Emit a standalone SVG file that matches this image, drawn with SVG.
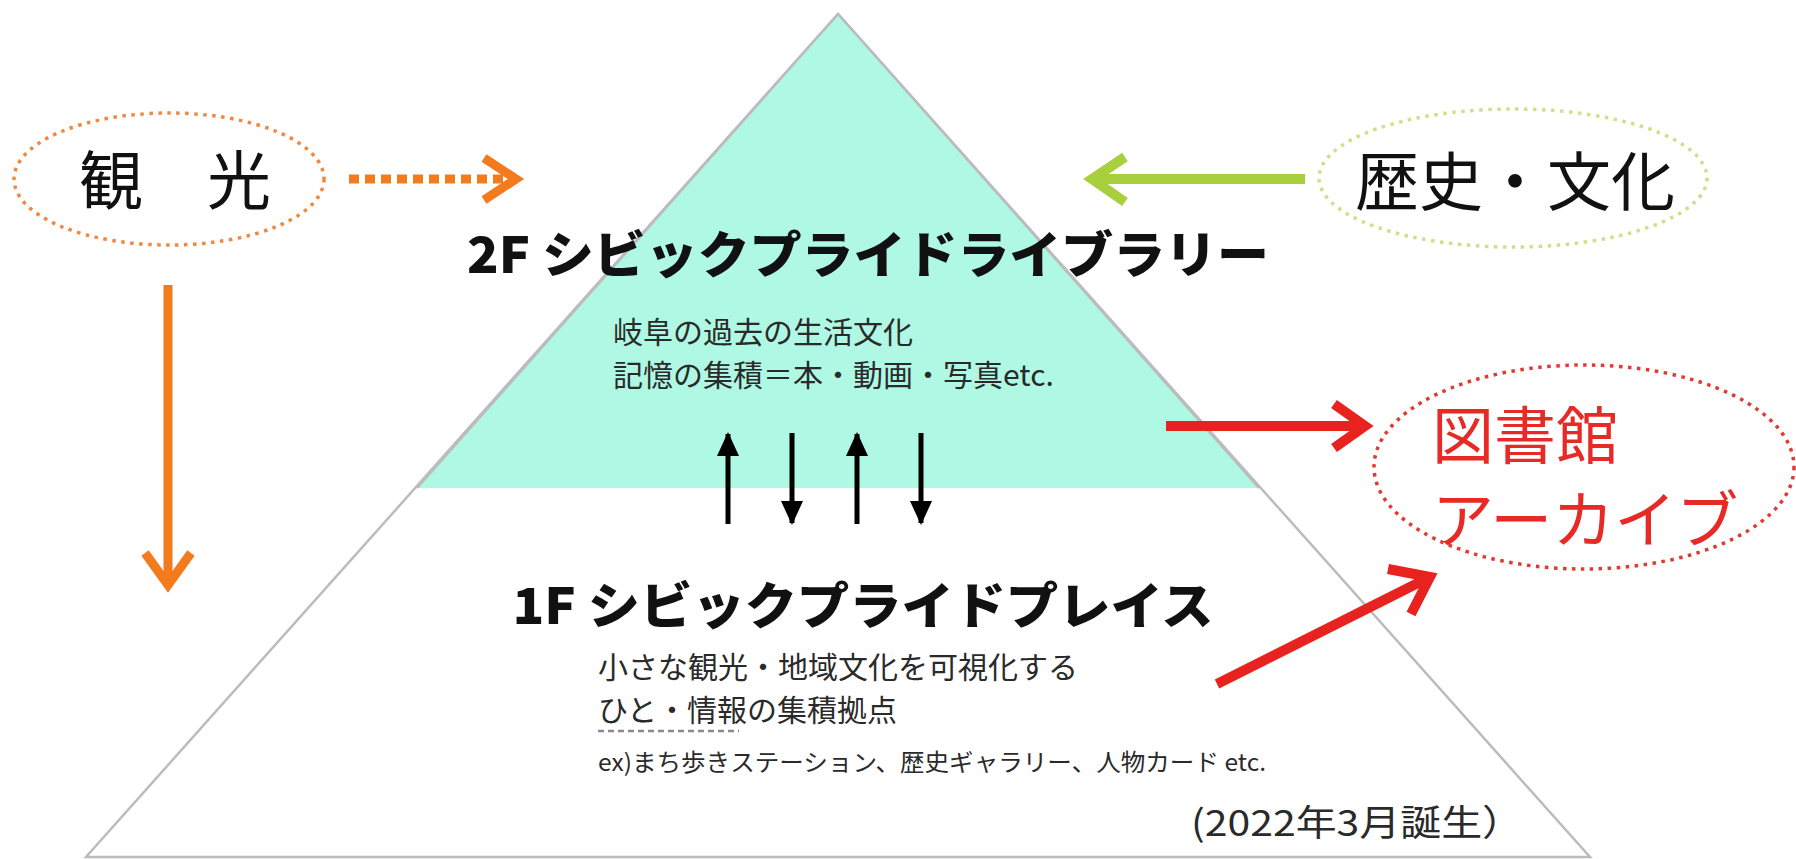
<svg xmlns="http://www.w3.org/2000/svg" width="1796" height="859" viewBox="0 0 1796 859">
<style>
text{font-family:"Noto Sans CJK JP","Noto Sans",sans-serif;}
.big{font-size:64px;fill:#111;}
.title{font-size:50px;font-weight:900;fill:#111;}
.body{font-size:30px;fill:#2a2a2a;}
.arw{fill:none;stroke-linecap:butt;stroke-linejoin:miter;}
.orange{stroke:#f47a1e;}
.green{stroke:#a8cf3e;}
.red{stroke:#e8231f;}
</style>
<defs>
<marker id="blk" viewBox="0 0 24 24" refX="22" refY="12" markerWidth="24" markerHeight="24" orient="auto" markerUnits="userSpaceOnUse">
<path d="M0,1 L24,12 L0,23 Z" fill="#000"/>
</marker>
</defs>
<rect width="1796" height="859" fill="#fff"/>

<g id="pyramid">
<polygon points="838,14 86,857 1590,857" fill="#fff" stroke="#bcbcbc" stroke-width="2.5"/>
<polygon points="838,15 417,488 1259,488" fill="#aef8e4"/>
<line x1="838" y1="14" x2="417" y2="488" stroke="#bcbcbc" stroke-width="2.5"/>
<line x1="838" y1="14" x2="1259" y2="488" stroke="#bcbcbc" stroke-width="2.5"/>
</g>

<g id="node-kanko">
<ellipse cx="169" cy="179" rx="155" ry="66" fill="none" stroke="#f08840" stroke-width="3.5" stroke-dasharray="3.5 5.5"/>
<text class="big" x="175" y="204" text-anchor="middle">観　光</text>
</g>

<g id="node-rekishi">
<ellipse cx="1513" cy="178" rx="194" ry="69" fill="none" stroke="#cfe08a" stroke-width="3.5" stroke-dasharray="3.5 5.5"/>
<text class="big" x="1515" y="205" text-anchor="middle">歴史・文化</text>
</g>

<g id="node-archive">
<ellipse cx="1584" cy="467" rx="210" ry="102" fill="none" stroke="#e03a34" stroke-width="3.5" stroke-dasharray="3.5 5.5"/>
<text class="big" x="1432" y="459" style="fill:#e82a26;font-size:62px">図書館</text>
<text class="big" x="1432" y="543" style="fill:#e82a26;font-size:62px">アーカイブ</text>
</g>

<g id="node-2f">
<text class="title" x="868" y="273" text-anchor="middle" textLength="802" lengthAdjust="spacingAndGlyphs">2F シビックプライドライブラリー</text>
<text class="body" x="613" y="343">岐阜の過去の生活文化</text>
<text class="body" x="613" y="386">記憶の集積＝本・動画・写真etc.</text>
</g>

<g id="node-1f">
<text class="title" x="863" y="624" text-anchor="middle" textLength="701" lengthAdjust="spacingAndGlyphs">1F シビックプライドプレイス</text>
<text class="body" x="598" y="678">小さな観光・地域文化を可視化する</text>
<text class="body" x="598" y="721">ひと・情報の集積拠点</text>
<line x1="598" y1="731" x2="739" y2="731" stroke="#8a8a8a" stroke-width="2.5" stroke-dasharray="6 4"/>
<text class="body" x="598" y="771" style="font-size:24px" textLength="668" lengthAdjust="spacingAndGlyphs">ex)まち歩きステーション、歴史ギャラリー、人物カード etc.</text>
<text class="body" x="1191" y="836" style="font-size:36px" textLength="332" lengthAdjust="spacingAndGlyphs">(2022年3月誕生）</text>
</g>

<g id="connectors">
<line class="arw orange" x1="349" y1="179" x2="510" y2="179" stroke-width="9" stroke-dasharray="10 6"/>
<polyline class="arw orange" points="484,158 516,179 484,200" stroke-width="9"/>
<line class="arw orange" x1="168" y1="285" x2="168" y2="585" stroke-width="9"/>
<polyline class="arw orange" points="145,553 168,585 191,553" stroke-width="9"/>
<line class="arw green" x1="1305" y1="179" x2="1092" y2="179" stroke-width="10"/>
<polyline class="arw green" points="1125,157 1092,179 1125,202" stroke-width="10"/>
<line class="arw red" x1="1166" y1="426" x2="1362" y2="426" stroke-width="10"/>
<polyline class="arw red" points="1334,404 1365,426 1334,448" stroke-width="10"/>
<line class="arw red" x1="1217" y1="684" x2="1428" y2="578" stroke-width="10"/>
<polyline class="arw red" points="1388,569 1430,577 1411,614" stroke-width="10"/>
<g stroke="#000" stroke-width="5" marker-end="url(#blk)">
<line x1="728" y1="524" x2="728" y2="434"/>
<line x1="792" y1="433" x2="792" y2="523"/>
<line x1="857" y1="524" x2="857" y2="434"/>
<line x1="921" y1="433" x2="921" y2="523"/>
</g>
</g>
</svg>
